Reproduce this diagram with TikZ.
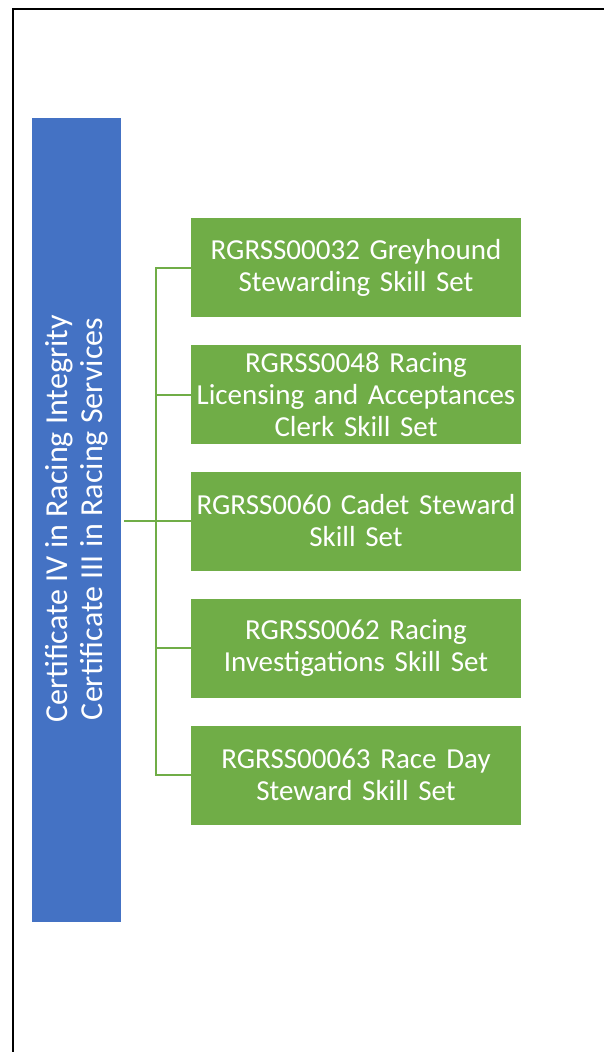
\documentclass[tikz,border=0pt]{standalone}
\usepackage{fontspec}
\setmainfont{Carlito}
\definecolor{cblue}{HTML}{4472C4}
\definecolor{cgreen}{HTML}{70AD47}
\begin{document}
\begin{tikzpicture}[x=1pt,y=-1pt,
  gbox/.style={fill=cgreen, draw=none, minimum width=330pt, minimum height=99pt, text width=328pt, align=center, text=white, font=\fontsize{29}{32}\selectfont, inner sep=0pt},
  conn/.style={draw=cgreen, line width=2pt}]
\useasboundingbox (0,0) rectangle (604,1052);
\fill[white] (0,0) rectangle (604,1052);
\draw[line width=2.5pt] (604,9) -- (13,9) -- (13,1052);
\fill[cblue] (32,118) rectangle (121,922);
\node[rotate=90, text=white, align=center, font=\fontsize{32}{35}\selectfont, inner sep=0pt] (root) at (76.5,519) {Certificate IV in Racing Integrity\\Certificate III in Racing Services};
\coordinate (rootr) at (124,520.5);
\node[gbox] (b1) at (356,267.5) {RGRSS00032 Greyhound\\Stewarding Skill Set};
\node[gbox] (b2) at (356,394.5) {RGRSS0048 Racing\\Licensing and Acceptances\\Clerk Skill Set};
\node[gbox] (b3) at (356,521) {RGRSS0060 Cadet Steward\\Skill Set};
\node[gbox] (b4) at (356,648) {RGRSS0062 Racing\\Investigations Skill Set};
\node[gbox] (b5) at (356,775) {RGRSS00063 Race Day\\Steward Skill Set};
\coordinate (spine) at (156,520.5);
\draw[conn] (rootr) -- (spine);
\draw[conn] (b1.west) -| (spine);
\draw[conn] (b5.west) -| (spine);
\draw[conn] (b2.west) -- (b2.west -| spine);
\draw[conn] (b3.west) -- (b3.west -| spine);
\draw[conn] (b4.west) -- (b4.west -| spine);
\end{tikzpicture}
\end{document}
